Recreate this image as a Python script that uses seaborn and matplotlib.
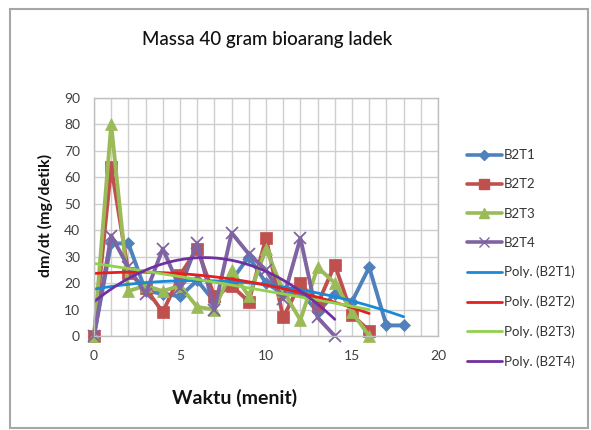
import numpy as np
import pandas as pd
import matplotlib
matplotlib.use("Agg")
import matplotlib.pyplot as plt
from matplotlib.patches import Rectangle
from matplotlib.lines import Line2D
import seaborn as sns

# ---- data ----
t_b2t1 = list(range(0, 19))
b2t1 = [0, 35, 35, 17, 16, 15, 21, 13, 21, 30, 20, 16, 17, 9, 16, 13, 26, 4, 4]
t_b2t2 = list(range(0, 17))
b2t2 = [0, 64, 24, 18, 9, 23, 33, 15, 19, 13, 37, 7, 20, 12, 27, 8, 2]
t_b2t3 = list(range(0, 17))
b2t3 = [0, 80, 17, 19, 17, 19, 11, 10, 25, 15, 33, 17, 6, 26, 20, 9, 0]
t_b2t4 = list(range(0, 15))
b2t4 = [0, 38, 26, 16, 33, 18, 35, 10, 39, 31, 25, 14, 37, 7, 0]

series_names = ["B2T1", "B2T2", "B2T3", "B2T4"]
x_ticks = [0, 5, 10, 15, 20]
y_ticks = [0, 10, 20, 30, 40, 50, 60, 70, 80, 90]

sns.set_theme(style="white")
plt.rcParams['font.family'] = ['Lato', 'DejaVu Sans']

fig = plt.figure(figsize=(5.91, 4.30), dpi=100)
W, H = 591, 430
ax = fig.add_axes([94 / W, 1 - 336 / H, (438 - 94) / W, (336 - 98) / H])

data = [(t_b2t1, b2t1), (t_b2t2, b2t2), (t_b2t3, b2t3), (t_b2t4, b2t4)]
colors = ["#4F81BD", "#C0504D", "#9BBB59", "#8064A2"]
markers = ["D", "s", "^", "x"]
msizes = [6, 8, 8, 8]
trend_colors = ["#1B8AD6", "#E3201E", "#92D050", "#7030A0"]

# gridlines
ax.set_xlim(0, 20)
ax.set_ylim(0, 90)
ax.set_xticks(x_ticks)
ax.set_xticks(range(0, 21), minor=True)
ax.set_yticks(y_ticks)
ax.grid(True, which="both", color="#CFCFCF", lw=1.0)
ax.set_axisbelow(True)

handles = []
for (xs, ys), c, m, ms, name in zip(data, colors, markers, msizes, series_names):
    df = pd.DataFrame({"t": xs, "v": ys})
    sns.lineplot(data=df, x="t", y="v", ax=ax, color=c, lw=2.8, marker=m,
                 markersize=ms, markeredgecolor=c, markeredgewidth=1.3 if m == "x" else 0.5,
                 estimator=None, sort=False, legend=False, clip_on=False)
    handles.append(Line2D([], [], color=c, lw=2.6, marker=m, markersize=ms - 1,
                          markeredgecolor=c, label=name))

for (xs, ys), c, name in zip(data, trend_colors, series_names):
    df = pd.DataFrame({"t": xs, "v": ys})
    sns.regplot(data=df, x="t", y="v", ax=ax, order=2, ci=None, scatter=False,
                truncate=True, line_kws={"color": c, "lw": 2.0})
    handles.append(Line2D([], [], color=c, lw=2.0, label=f"Poly. ({name})"))

ax.set_xlim(0, 20)
ax.set_ylim(0, 90)
ax.set_xlabel("")
ax.set_ylabel("")
for s in ax.spines.values():
    s.set_color("#BFBFBF")
    s.set_linewidth(1.0)
ax.tick_params(axis="both", which="both", labelsize=10, colors="#404040",
               direction="out", length=4, width=1, pad=6)
ax.tick_params(axis="x", which="minor", length=4, color="#BFBFBF")
ax.tick_params(axis="x", which="major", color="#BFBFBF")
ax.tick_params(axis="y", which="major", color="#BFBFBF", length=4)
for lab in ax.get_xticklabels() + ax.get_yticklabels():
    lab.set_color("#404040")

fig.text(267 / W, 1 - 40 / H, "Massa 40 gram bioarang ladek", ha="center", va="center",
         fontsize=13.5, color="#111111", fontweight="medium")
fig.text(45 / W, 1 - 215 / H, "dm/dt (mg/detik)", ha="center", va="center",
         rotation=90, fontsize=11.5, fontweight="bold", color="#111111")
fig.text(235 / W, 1 - 398 / H, "Waktu (menit)", ha="center", va="center",
         fontsize=14, fontweight="bold", color="#111111")

fig.legend(handles=handles, loc="upper left", bbox_to_anchor=(462 / W, 1 - 144 / H),
           frameon=False, fontsize=9.5, handlelength=2.6, handletextpad=0.15,
           labelspacing=1.3, borderaxespad=0, labelcolor="#333333")

fig.add_artist(Rectangle((10 / W, 1 - 428 / H), (588 - 10) / W, (428 - 9) / H,
                         transform=fig.transFigure, fill=False,
                         edgecolor="#A6A6A6", lw=1.5))

fig.savefig("out.png", dpi=100)
